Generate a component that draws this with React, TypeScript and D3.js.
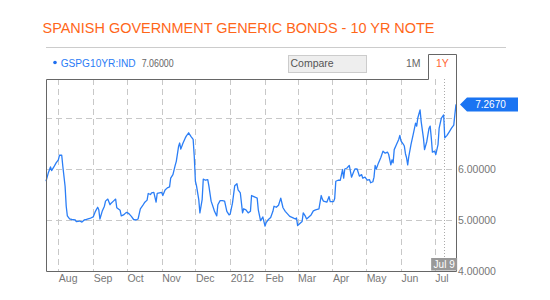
import React from "react";
import * as d3 from "d3";

const TITLE = "SPANISH GOVERNMENT GENERIC BONDS - 10 YR NOTE";
const TICKER = "GSPG10YR:IND";
const HEADER_VALUE = "7.06000";
const LAST_LABEL = "7.2670";
const COMPARE_LABEL = "Compare";
const RANGE_BUTTONS = ["1M", "1Y"];
const MARKER_DATE = "2012-07-09";
const MARKER_LABEL = "Jul 9";
const X_DOMAIN = ["2011-07-21", "2012-07-20"];
const Y_DOMAIN = [4, 7.765];
const Y_TICKS = [4, 5, 6];
const Y_GRID = [5, 6, 7];

const dates = [
  "2011-07-21","2011-07-23","2011-07-25","2011-07-26","2011-07-28","2011-07-30",
  "2011-08-01","2011-08-02","2011-08-04","2011-08-05","2011-08-07","2011-08-08","2011-08-09","2011-08-11","2011-08-13","2011-08-16","2011-08-17","2011-08-20","2011-08-22","2011-08-24","2011-08-26","2011-08-29",
  "2011-09-01","2011-09-03","2011-09-05","2011-09-06","2011-09-07","2011-09-09","2011-09-11","2011-09-12","2011-09-14","2011-09-16","2011-09-17","2011-09-19","2011-09-21","2011-09-22","2011-09-25","2011-09-26","2011-09-28","2011-09-30",
  "2011-10-01","2011-10-03","2011-10-05","2011-10-07","2011-10-09","2011-10-11","2011-10-13","2011-10-15","2011-10-17","2011-10-19","2011-10-20","2011-10-22","2011-10-23","2011-10-25","2011-10-27","2011-10-28","2011-10-30",
  "2011-11-01","2011-11-02","2011-11-04","2011-11-06","2011-11-08","2011-11-09","2011-11-11","2011-11-13","2011-11-14","2011-11-16","2011-11-17","2011-11-18","2011-11-20","2011-11-22","2011-11-23","2011-11-25","2011-11-27","2011-11-29","2011-11-30",
  "2011-12-01","2011-12-02","2011-12-04","2011-12-05","2011-12-07","2011-12-08","2011-12-10","2011-12-12","2011-12-13","2011-12-15","2011-12-17","2011-12-18","2011-12-20","2011-12-21","2011-12-23","2011-12-25","2011-12-27","2011-12-29","2011-12-31",
  "2012-01-01","2012-01-03","2012-01-05","2012-01-07","2012-01-08","2012-01-10","2012-01-12","2012-01-13","2012-01-15","2012-01-17","2012-01-19","2012-01-20","2012-01-22","2012-01-25","2012-01-26","2012-01-28","2012-01-29","2012-01-30",
  "2012-02-01","2012-02-02","2012-02-04","2012-02-06","2012-02-08","2012-02-09","2012-02-11","2012-02-13","2012-02-15","2012-02-17","2012-02-19","2012-02-21","2012-02-23","2012-02-26","2012-02-28","2012-02-29",
  "2012-03-01","2012-03-03","2012-03-05","2012-03-06","2012-03-08","2012-03-09","2012-03-11","2012-03-13","2012-03-15","2012-03-17","2012-03-20","2012-03-22","2012-03-23","2012-03-24","2012-03-27","2012-03-29","2012-03-30",
  "2012-04-02","2012-04-03","2012-04-04","2012-04-06","2012-04-08","2012-04-10","2012-04-11","2012-04-12","2012-04-14","2012-04-16","2012-04-18","2012-04-20","2012-04-21","2012-04-23","2012-04-25","2012-04-27","2012-04-28","2012-04-30",
  "2012-05-02","2012-05-04","2012-05-05","2012-05-07","2012-05-08","2012-05-09","2012-05-10","2012-05-12","2012-05-14","2012-05-16","2012-05-18","2012-05-20","2012-05-21","2012-05-23","2012-05-24","2012-05-25","2012-05-26","2012-05-28","2012-05-30","2012-05-31",
  "2012-06-01","2012-06-03","2012-06-04","2012-06-05","2012-06-06","2012-06-07","2012-06-08","2012-06-10","2012-06-12","2012-06-14","2012-06-15","2012-06-16","2012-06-18","2012-06-19","2012-06-21","2012-06-22","2012-06-24","2012-06-26","2012-06-27","2012-06-28","2012-06-29",
  "2012-07-01","2012-07-02","2012-07-04","2012-07-05","2012-07-07","2012-07-09","2012-07-10","2012-07-12","2012-07-14","2012-07-16","2012-07-18","2012-07-19","2012-07-20"
];

const yields = [
  5.76,5.92,6.04,5.97,6.04,6.12,
  6.18,6.27,6.27,6.05,5.66,5.27,5.08,5.02,5.01,5.00,4.97,4.98,4.96,5.00,5.01,5.03,
  5.06,5.17,5.25,5.20,5.02,5.17,5.27,5.37,5.41,5.30,5.33,5.37,5.41,5.24,5.19,5.08,5.10,5.14,
  5.15,5.12,5.07,5.01,5.00,5.02,5.22,5.28,5.35,5.39,5.52,5.50,5.53,5.54,5.35,5.52,5.53,
  5.54,5.48,5.59,5.63,5.65,5.82,5.89,6.07,6.15,6.44,6.51,6.39,6.51,6.61,6.65,6.71,6.64,6.58,6.24,
  5.76,5.67,5.40,5.14,5.40,5.80,5.78,5.79,5.67,5.37,5.24,5.17,5.08,5.30,5.38,5.38,5.37,5.17,5.10,
  5.12,5.33,5.67,5.71,5.59,5.53,5.14,5.22,5.20,5.14,5.17,5.48,5.46,5.43,5.20,4.99,5.02,5.06,
  4.88,4.95,5.01,5.05,5.17,5.27,5.25,5.29,5.43,5.24,5.17,5.12,5.07,5.04,5.02,5.04,
  4.89,4.93,4.97,5.14,5.07,5.02,5.06,5.10,5.18,5.20,5.22,5.48,5.41,5.37,5.35,5.46,5.36,
  5.36,5.42,5.76,5.78,5.78,5.99,5.82,6.00,6.02,6.07,5.84,5.95,6.00,6.00,5.86,5.89,5.82,5.84,
  5.78,5.79,5.73,5.75,5.84,6.07,6.00,6.12,6.22,6.35,6.31,6.33,6.29,6.08,6.18,6.12,6.38,6.48,6.58,6.66,
  6.55,6.49,6.45,6.30,6.22,6.08,6.25,6.49,6.69,6.90,6.84,7.00,7.16,6.93,6.61,6.38,6.54,6.80,6.84,6.61,6.33,
  6.35,6.28,6.48,6.80,7.00,7.06,6.61,6.66,6.73,6.80,6.86,7.07,7.267
];

const FONT = "'Liberation Sans', Arial, sans-serif";

export default function App() {
  const W = 550, H = 300;
  const left = 46, right = 456, top = 79, bottom = 271;
  const parse = d3.utcParse("%Y-%m-%d");
  const data = dates.map((d, i) => ({ date: parse(d) as Date, value: yields[i] }));

  const x = d3.scaleUtc().domain(X_DOMAIN.map((d) => parse(d) as Date)).range([left, right]);
  const y = d3.scaleLinear().domain(Y_DOMAIN).range([bottom, top]);

  const months = d3.utcMonth.range(x.domain()[0], x.domain()[1]);
  const fmt = (d: Date) => (d.getUTCMonth() === 0 ? d3.utcFormat("%Y")(d) : d3.utcFormat("%b")(d));

  const line = d3.line<{ date: Date; value: number }>().x((d) => x(d.date)).y((d) => y(d.value));

  const last = data[data.length - 1];
  const tagY = y(last.value);
  const markerX = x(parse(MARKER_DATE) as Date);

  const tabLeft = 428, tabTop = 54;
  const borderPath = `M${left},${top}V${bottom}H${right}V${tabTop}H${tabLeft}V${top}H${left}`;

  return (
    <svg width={W} height={H} style={{ position: "absolute", left: 0, top: 0, background: "#fff" }} fontFamily={FONT}>
      <text x={42.5} y={33.3} fontSize={15} fill="#ff6619" textLength={392} lengthAdjust="spacingAndGlyphs">{TITLE}</text>
      <line x1={46} x2={506} y1={47.5} y2={47.5} stroke="#cccccc" />

      <circle cx={55} cy={62.5} r={1.8} fill="#1f6ff0" />
      <text x={60.7} y={67} fontSize={10} fill="#2a7cf6" textLength={75} lengthAdjust="spacingAndGlyphs">{TICKER}</text>
      <text x={141.7} y={67} fontSize={10} fill="#666" textLength={32} lengthAdjust="spacingAndGlyphs">{HEADER_VALUE}</text>

      <rect x={288.5} y={55.5} width={78} height={17} fill="#eeeeee" stroke="#cccccc" />
      <text x={290.5} y={67.3} fontSize={10.5} fill="#555">{COMPARE_LABEL}</text>
      <text x={406} y={67} fontSize={10.5} fill="#666">{RANGE_BUTTONS[0]}</text>
      <text x={436} y={67} fontSize={10.5} fill="#ff6633">{RANGE_BUTTONS[1]}</text>

      {months.map((m, i) => (
        <line key={"vg" + i} x1={Math.round(x(m)) + 0.5} x2={Math.round(x(m)) + 0.5} y1={top} y2={bottom} stroke="#c8c8c8" strokeDasharray="6,4" />
      ))}
      {Y_GRID.map((v, i) => (
        <line key={"hg" + i} x1={left} x2={right} y1={Math.round(y(v)) + 0.5} y2={Math.round(y(v)) + 0.5} stroke="#c8c8c8" strokeDasharray="6,4" />
      ))}

      <line x1={Math.round(markerX) + 0.5} x2={Math.round(markerX) + 0.5} y1={top} y2={258} stroke="#aaaaaa" strokeDasharray="1,2" />

      <path d={line(data) || ""} fill="none" stroke="#2b7ef6" strokeWidth={1.3} strokeLinejoin="round" />

      <path d={borderPath} fill="none" stroke="#666666" strokeWidth={1} transform="translate(0.5,0.5)" />

      {months.map((m, i) => (
        <text key={"xl" + i} x={x(m) + 0.5} y={281.5} fontSize={10.5} fill="#777">{fmt(m)}</text>
      ))}
      {Y_TICKS.map((v, i) => (
        <text key={"yl" + i} x={458} y={y(v) + 3.5} fontSize={10.5} fill="#777">{v.toFixed(5)}</text>
      ))}

      <rect x={markerX - 12.5} y={258} width={26} height={12.5} fill="#999999" />
      <text x={markerX + 0.5} y={268} fontSize={10} fill="#ffffff" textAnchor="middle">{MARKER_LABEL}</text>

      <path d={`M${right + 4},${tagY}L${right + 11},${tagY - 7}H${right + 62}V${tagY + 7}H${right + 11}Z`} fill="#1a74f2" />
      <text x={right + 34.5} y={tagY + 3.5} fontSize={10} fill="#ffffff" textAnchor="middle">{LAST_LABEL}</text>
    </svg>
  );
}
